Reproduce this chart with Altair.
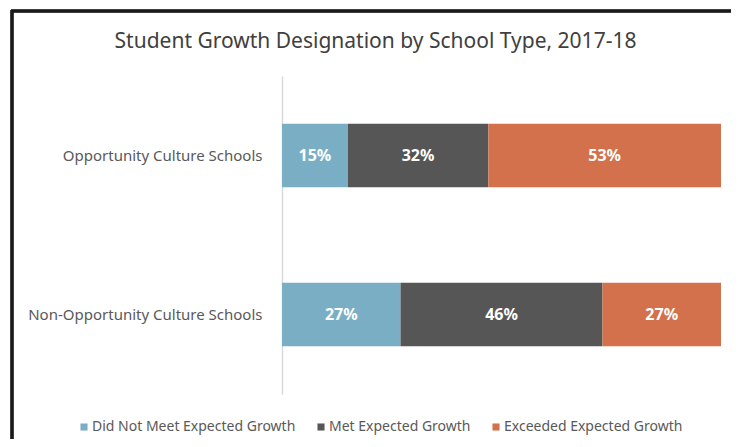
import altair as alt
import pandas as pd

schools = ["Opportunity Culture Schools", "Non-Opportunity Culture Schools"]
categories = ["Did Not Meet Expected Growth", "Met Expected Growth", "Exceeded Expected Growth"]
colors = ["#7AAEC4", "#565656", "#D2714B"]
values = {
    "Opportunity Culture Schools": [15, 32, 53],
    "Non-Opportunity Culture Schools": [27, 46, 27],
}

rows = []
for s in schools:
    for i, c in enumerate(categories):
        rows.append({"school": s, "category": c, "order": i, "value": values[s][i],
                     "label": f"{values[s][i]}%"})
df = pd.DataFrame(rows)

FONT = "Noto Sans"

base = alt.Chart(df).encode(
    y=alt.Y("school:N", sort=schools, title=None,
            scale=alt.Scale(paddingInner=0.6, paddingOuter=0.3),
            axis=alt.Axis(ticks=False, labelPadding=20, labelFontSize=15,
                          labelColor="#595959", labelFont=FONT,
                          domainColor="#D9D9D9", domainWidth=1.5, labelLimit=400)),
    x=alt.X("value:Q", stack="zero", axis=None, scale=alt.Scale(domain=[0, 100], nice=False)),
    order=alt.Order("order:Q"),
)

bars = base.mark_bar().encode(
    color=alt.Color("category:N", sort=categories,
                    scale=alt.Scale(domain=categories, range=colors),
                    legend=alt.Legend(title=None, orient="none", direction="horizontal",
                                      legendX=-205, legendY=344, symbolType="square",
                                      symbolSize=50, symbolStrokeWidth=0,
                                      labelFontSize=14, labelColor="#595959",
                                      labelFont=FONT, columnPadding=18, labelOffset=1,
                                      labelLimit=400)),
)

text = alt.Chart(df).transform_stack(
    stack="value", groupby=["school"], as_=["v0", "v1"],
    sort=[alt.SortField("order")]
).transform_calculate(mid="(datum.v0 + datum.v1) / 2").mark_text(
    color="white", fontSize=16, fontWeight="bold", font=FONT, baseline="middle"
).encode(
    y=alt.Y("school:N", sort=schools),
    x=alt.X("mid:Q"),
    text="label:N",
)

border_top = alt.Chart(df).mark_rule(color="#1a1a1a", strokeWidth=2.5).encode(
    x=alt.value(-271), x2=alt.value(460), y=alt.value(-65)
)
border_left = alt.Chart(df).mark_rule(color="#1a1a1a", strokeWidth=2.5).encode(
    x=alt.value(-270), y=alt.value(-66), y2=alt.value(371)
)

chart = alt.layer(bars, text, border_top, border_left).properties(
    width=439, height=318,
    autosize=alt.AutoSizeParams(type="none"),
    padding={"left": 274, "top": 68, "right": 10, "bottom": 45},
    background="white",
    title=alt.TitleParams("Student Growth Designation by School Type, 2017-18",
                          fontSize=21, font=FONT, fontWeight="normal", color="#404040",
                          anchor="middle", dx=-126, dy=67, offset=24),
).configure_view(stroke=None)

chart.save("out.html", embed_options={"renderer": "svg", "actions": False})
